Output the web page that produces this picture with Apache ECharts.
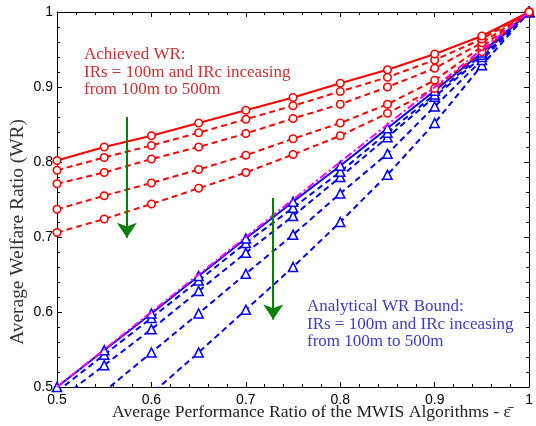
<!DOCTYPE html>
<html><head><meta charset="utf-8">
<script src="https://cdn.jsdelivr.net/npm/echarts@6/dist/echarts.min.js"></script>
<style>html,body{margin:0;padding:0;background:#fff}#c{width:536px;height:426px}</style>
</head><body><div id="c"></div>
<script>
const xVals = [0.5, 0.55, 0.6, 0.65, 0.7, 0.75, 0.8, 0.85, 0.9, 0.95, 1.0];
// Achieved WR (red, circles)
const red1 = [0.802, 0.820, 0.835, 0.852, 0.869, 0.886, 0.905, 0.923, 0.944, 0.968, 1.0];
const red2 = [0.789, 0.806, 0.822, 0.839, 0.857, 0.875, 0.894, 0.913, 0.936, 0.964, 1.0];
const red3 = [0.771, 0.786, 0.804, 0.820, 0.838, 0.858, 0.877, 0.900, 0.925, 0.959, 1.0];
const red4 = [0.737, 0.755, 0.772, 0.790, 0.809, 0.831, 0.852, 0.877, 0.909, 0.954, 1.0];
const red5 = [0.706, 0.724, 0.744, 0.765, 0.786, 0.810, 0.835, 0.865, 0.898, 0.947, 1.0];
// Analytical WR bound (blue, triangles)
const blue1 = [0.500, 0.549, 0.598, 0.648, 0.698, 0.747, 0.795, 0.845, 0.895, 0.946, 1.0];
const blue2 = [0.494, 0.543, 0.592, 0.642, 0.692, 0.739, 0.787, 0.839, 0.890, 0.943, 1.0];
const blue3 = [0.481, 0.529, 0.577, 0.628, 0.679, 0.728, 0.780, 0.833, 0.887, 0.940, 1.0];
const blue4 = [0.440, 0.494, 0.546, 0.598, 0.651, 0.703, 0.758, 0.811, 0.874, 0.936, 1.0];
const blue5 = [0.380, 0.435, 0.491, 0.546, 0.603, 0.660, 0.720, 0.783, 0.852, 0.929, 1.0];
// reference line y = x (magenta dash-dot)
const refX = [0.5, 1.0];
const refY = [0.5, 1.0];
// green arrows
const arrowX = [0.574, 0.729];
const arrowTop = [0.860, 0.752];
const arrowBottom = [0.699, 0.590];

const pairs = (xs, ys) => xs.map((x, i) => [x, ys[i]]);
const RED = '#ff0000', BLUE = '#0000ff';
function mk(ys, color, dashed, sym, size) {
  return {
    type: 'line', data: pairs(xVals, ys), clip: true,
    symbol: sym, symbolSize: size, showAllSymbol: true,
    lineStyle: { color: color, width: 2, type: dashed ? [6, 4] : 'solid' },
    itemStyle: { color: '#fff', borderColor: color, borderWidth: 1.6 },
    emphasis: { disabled: true }, animation: false, z: 3
  };
}
const tri = 'triangle';
const series = [
  mk(blue5, BLUE, true, tri, 9), mk(blue4, BLUE, true, tri, 9), mk(blue3, BLUE, true, tri, 9),
  mk(blue2, BLUE, true, tri, 9), mk(blue1, BLUE, false, tri, 9),
  { type: 'line', data: pairs(refX, refY), symbol: 'none', animation: false, z: 4,
    lineStyle: { color: '#ff00ff', width: 2, type: [8, 3, 2, 3] } },
  mk(red5, RED, true, 'circle', 7.5), mk(red4, RED, true, 'circle', 7.5), mk(red3, RED, true, 'circle', 7.5),
  mk(red2, RED, true, 'circle', 7.5), mk(red1, RED, false, 'circle', 7.5),
  { type: 'lines', coordinateSystem: 'cartesian2d', animation: false, z: 5,
    symbol: ['none', 'arrow'], symbolSize: [7, 15],
    lineStyle: { color: '#008000', width: 2, opacity: 1 },
    data: arrowX.map((x, i) => ({ coords: [[x, arrowTop[i]], [x, arrowBottom[i]]] })) }
];

const axisCommon = {
  type: 'value', min: 0.5, max: 1, interval: 0.1,
  axisLine: { show: true, onZero: false, lineStyle: { color: '#000', width: 1 } },
  axisTick: { show: true, inside: true, length: 5, lineStyle: { color: '#000' } },
  minorTick: { show: true, splitNumber: 5, length: 3, lineStyle: { color: '#000' } },
  splitLine: { show: false }
};
const chart = echarts.init(document.getElementById('c'), null, { renderer: 'canvas' });
chart.setOption({
  animation: false,
  grid: { left: 57, right: 3, top: 12, bottom: 39 },
  xAxis: [
    Object.assign({}, axisCommon, { position: 'bottom',
      axisLabel: { show: true, margin: 6, color: '#000', fontFamily: 'Liberation Sans', fontSize: 14,
        formatter: v => String(+v.toFixed(1)) } }),
    Object.assign({}, axisCommon, { position: 'top', axisLabel: { show: false } })
  ],
  yAxis: [
    Object.assign({}, axisCommon, { position: 'left',
      axisLabel: { show: true, margin: 4, color: '#000', fontFamily: 'Liberation Sans', fontSize: 14,
        formatter: v => String(+v.toFixed(1)) } }),
    Object.assign({}, axisCommon, { position: 'right', axisLabel: { show: false } })
  ],
  series: series,
  graphic: [
    { type: 'text', left: 84, top: 46, silent: true,
      style: { text: 'Achieved WR:\nIRs = 100m and IRc inceasing\nfrom 100m to 500m',
        fill: '#c83232', font: '17px "Liberation Serif"', lineHeight: 17.5 } },
    { type: 'text', left: 307, top: 298, silent: true,
      style: { text: 'Analytical WR Bound:\nIRs = 100m and IRc inceasing\nfrom 100m to 500m',
        fill: '#3c3cc8', font: '17px "Liberation Serif"', lineHeight: 17.5 } },
    { type: 'text', left: 112, top: 403, silent: true,
      style: { text: 'Average Performance Ratio of the MWIS Algorithms - ε̄',
        fill: '#222', font: '17.6px "Liberation Serif"' } },
    { type: 'text', left: 8, top: 119, silent: true,
      style: { text: 'Average Welfare Ratio (WR)', fill: '#333', font: '19.4px "Liberation Serif"' },
      rotation: Math.PI / 2 }
  ]
});
</script></body></html>
